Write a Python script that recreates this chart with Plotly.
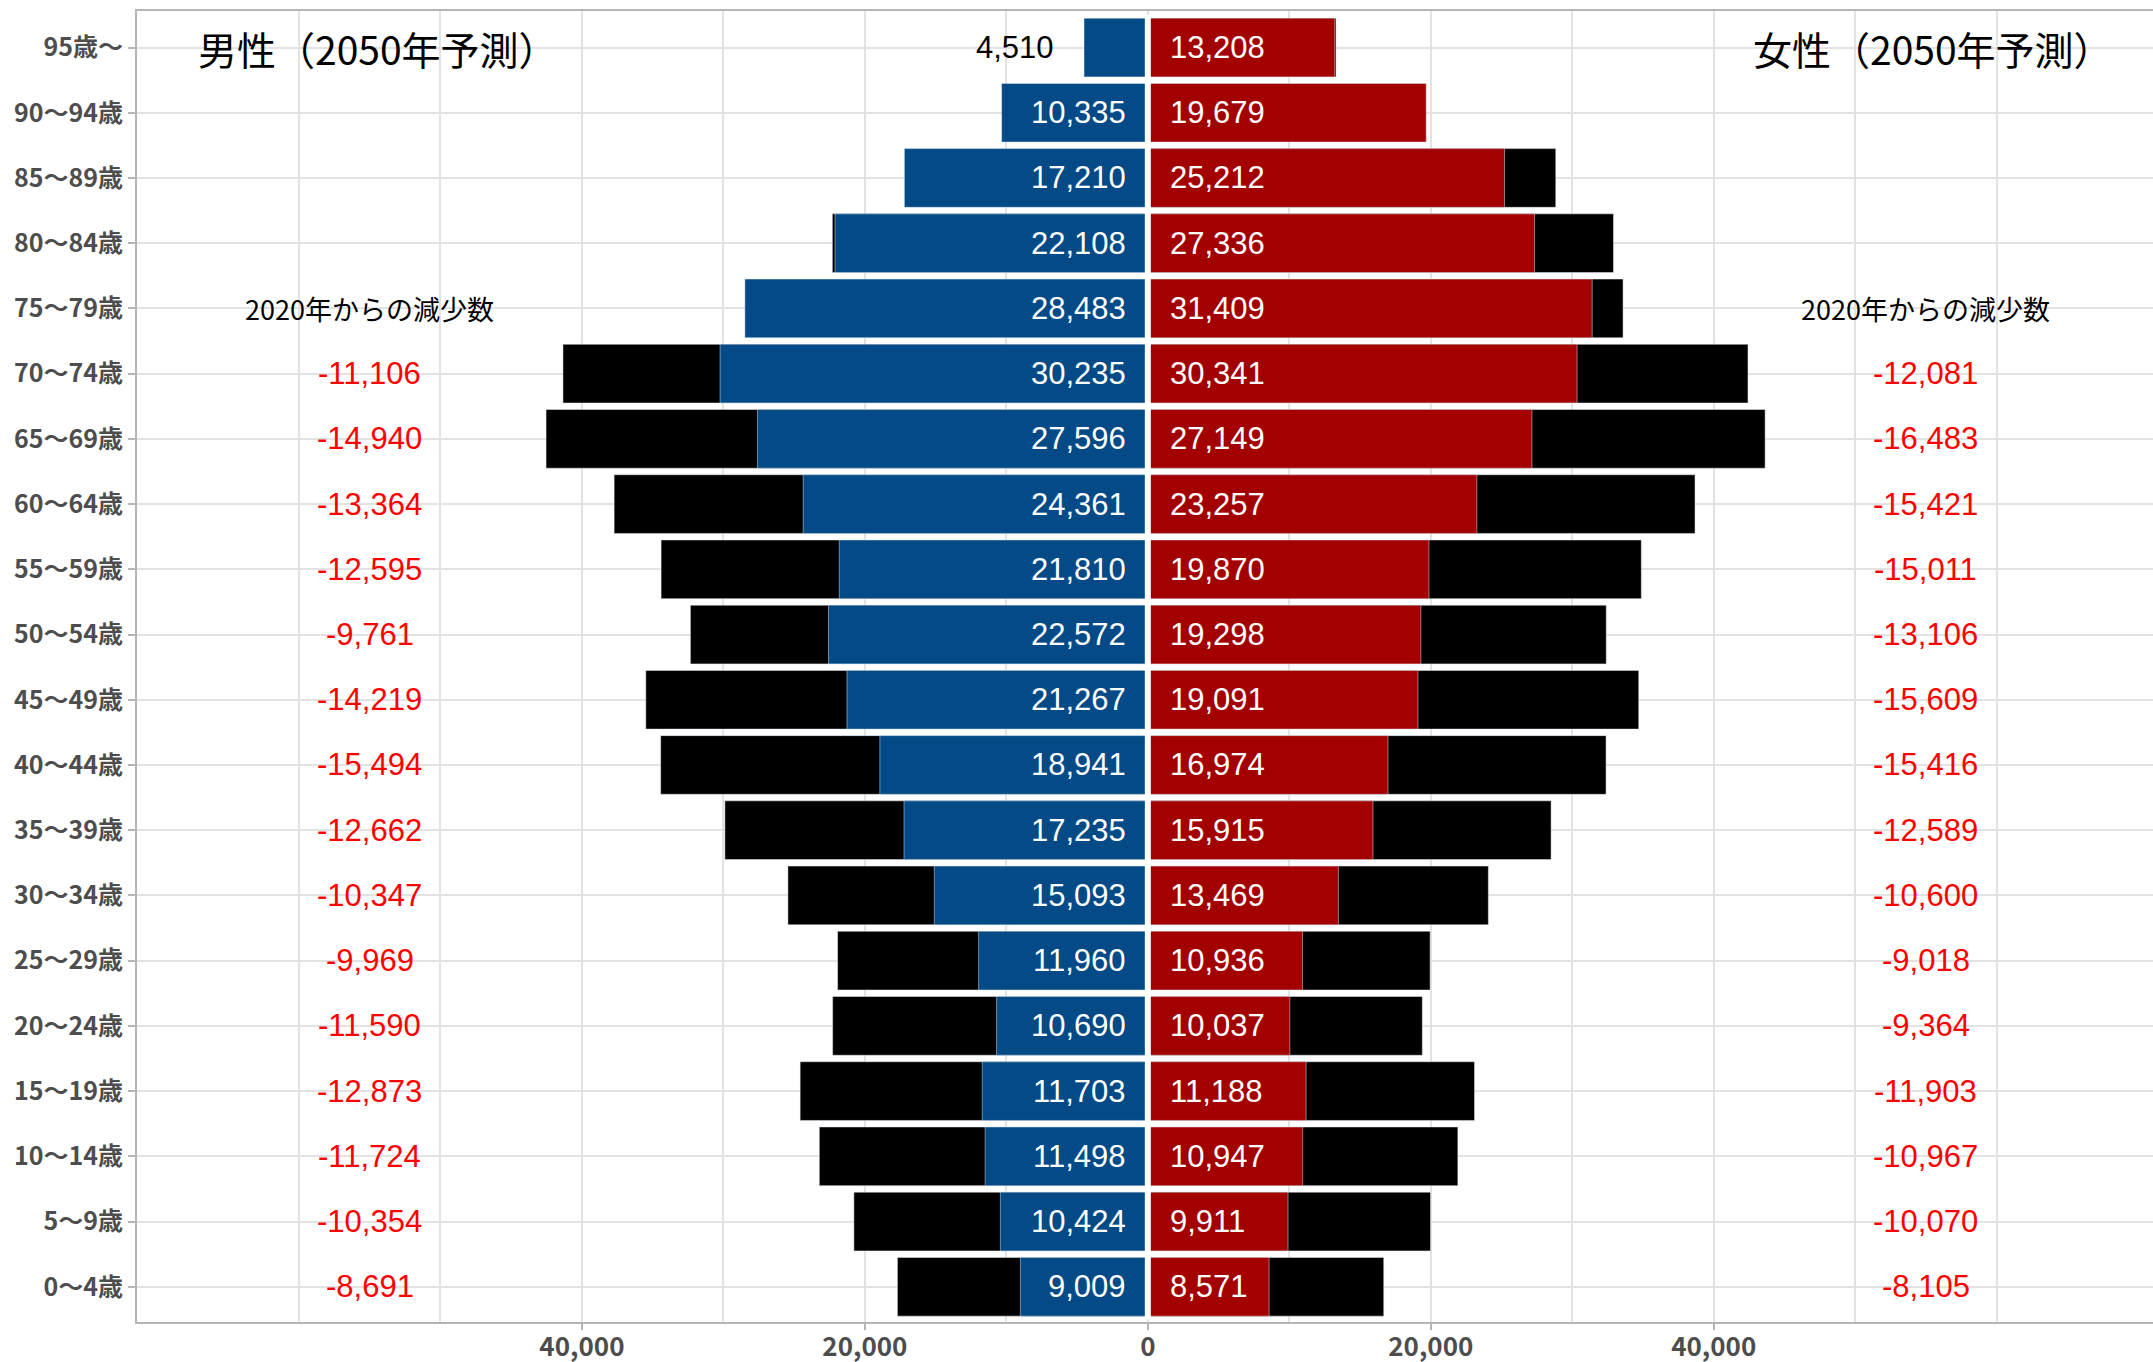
import plotly.graph_objects as go

ages = ["0〜4歳", "5〜9歳", "10〜14歳", "15〜19歳", "20〜24歳", "25〜29歳", "30〜34歳",
        "35〜39歳", "40〜44歳", "45〜49歳", "50〜54歳", "55〜59歳", "60〜64歳", "65〜69歳",
        "70〜74歳", "75〜79歳", "80〜84歳", "85〜89歳", "90〜94歳", "95歳〜"]

male_2050 = [9009, 10424, 11498, 11703, 10690, 11960, 15093, 17235, 18941, 21267,
             22572, 21810, 24361, 27596, 30235, 28483, 22108, 17210, 10335, 4510]
female_2050 = [8571, 9911, 10947, 11188, 10037, 10936, 13469, 15915, 16974, 19091,
               19298, 19870, 23257, 27149, 30341, 31409, 27336, 25212, 19679, 13208]

# 2020 population (black bars behind)
male_2020 = [17700, 20778, 23222, 24576, 22280, 21929, 25440, 29897, 34435, 35486,
             32333, 34405, 37725, 42536, 41341, None, 22300, None, None, None]
female_2020 = [16676, 19981, 21914, 23091, 19401, 19954, 24069, 28504, 32390, 34700,
               32404, 34881, 38678, 43632, 42422, 33592, 32913, 28835, None, 13300]

# decrease from 2020 (labels)
male_decrease = [-8691, -10354, -11724, -12873, -11590, -9969, -10347, -12662, -15494, -14219,
                 -9761, -12595, -13364, -14940, -11106, None, None, None, None, None]
female_decrease = [-8105, -10070, -10967, -11903, -9364, -9018, -10600, -12589, -15416, -15609,
                   -13106, -15011, -15421, -16483, -12081, None, None, None, None, None]

x_ticks = [-40000, -20000, 0, 20000, 40000]
x_ticktext = ["40,000", "20,000", "0", "20,000", "40,000"]
x_minor = [-60000, -50000, -30000, -10000, 10000, 30000, 50000, 60000]

BLUE = "#034a87"
RED = "#a30000"
BAR_W = 0.9

fig = go.Figure()
fig.add_trace(go.Bar(y=ages, x=[-v if v is not None else None for v in male_2020],
                     orientation="h", marker_color="black", width=BAR_W, hoverinfo="skip"))
fig.add_trace(go.Bar(y=ages, x=female_2020, orientation="h", marker_color="black",
                     width=BAR_W, hoverinfo="skip"))
fig.add_trace(go.Bar(y=ages, x=[-v for v in male_2050], orientation="h",
                     marker_color=BLUE, width=BAR_W))
fig.add_trace(go.Bar(y=ages, x=female_2050, orientation="h",
                     marker_color=RED, width=BAR_W))

num_font = dict(family="Liberation Sans, Arial, sans-serif", size=31)
ann = []
for a, m, f in zip(ages, male_2050, female_2050):
    if m < 6000:
        ann.append(dict(x=-m, y=a, text=f"{m:,}", showarrow=False, xanchor="right",
                        xshift=-28, font=dict(num_font, color="black")))
    else:
        ann.append(dict(x=0, y=a, text=f"{m:,}", showarrow=False, xanchor="right",
                        xshift=-20, font=dict(num_font, color="white")))
    ann.append(dict(x=0, y=a, text=f"{f:,}", showarrow=False, xanchor="left",
                    xshift=20, font=dict(num_font, color="white")))
for a, md, fd in zip(ages, male_decrease, female_decrease):
    if md is not None:
        ann.append(dict(x=-55000, y=a, text=f"{md:,}", showarrow=False,
                        font=dict(num_font, color="#ff0000")))
    if fd is not None:
        ann.append(dict(x=55000, y=a, text=f"{fd:,}", showarrow=False,
                        font=dict(num_font, color="#ff0000")))

cjk = "Noto Sans CJK JP, sans-serif"
ann.append(dict(x=-55000, y="75〜79歳", text="2020年からの減少数", showarrow=False,
                font=dict(family=cjk, size=27, color="black")))
ann.append(dict(x=55000, y="75〜79歳", text="2020年からの減少数", showarrow=False,
                font=dict(family=cjk, size=27, color="black")))
ann.append(dict(x=-54400, y="95歳〜", text="男性（2050年予測）", showarrow=False,
                font=dict(family=cjk, size=39, color="black")))
ann.append(dict(x=55500, y="95歳〜", text="女性（2050年予測）", showarrow=False,
                font=dict(family=cjk, size=39, color="black")))

fig.update_layout(
    width=2153, height=1362,
    margin=dict(l=137, r=0, t=11, b=40, autoexpand=False),
    barmode="overlay",
    showlegend=False,
    plot_bgcolor="white", paper_bgcolor="white",
    annotations=ann,
    shapes=[dict(type="line", xref="x", yref="y", x0=0, x1=0, y0=-0.5, y1=19.5,
                 line=dict(color="white", width=6), layer="above")],
)
fig.update_xaxes(
    range=[-71450, 71050], automargin=False,
    tickmode="array", tickvals=x_ticks, ticktext=x_ticktext,
    tickfont=dict(family=cjk, size=26, color="#4d4d4d", weight="bold"),
    ticklabelstandoff=-5,
    showgrid=True, gridcolor="#e3e3e3", gridwidth=1.5,
    minor=dict(tickmode="array", tickvals=x_minor, showgrid=True,
               gridcolor="#e3e3e3", gridwidth=1.5, ticks=""),
    showline=True, linecolor="#b5b5b5", linewidth=2, mirror=True,
    ticks="outside", ticklen=6, tickwidth=1.5, tickcolor="#b5b5b5",
    zeroline=False, fixedrange=True,
)
fig.update_yaxes(
    type="category", categoryorder="array", categoryarray=ages, automargin=False,
    range=[-0.54, 19.56],
    tickfont=dict(family=cjk, size=25, color="#4d4d4d", weight="bold"),
    showgrid=True, gridcolor="#e3e3e3", gridwidth=1.5,
    showline=True, linecolor="#b5b5b5", linewidth=2,
    ticks="outside", ticklen=7, tickwidth=1.5, tickcolor="#b5b5b5",
    fixedrange=True,
)

fig.write_html("out.html")
